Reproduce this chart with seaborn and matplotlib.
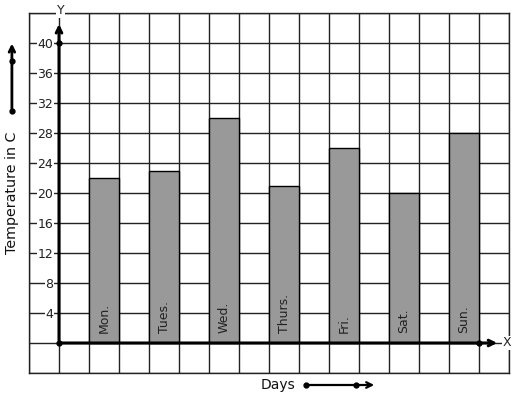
import matplotlib
matplotlib.use("Agg")
import matplotlib.pyplot as plt
import seaborn as sns
import pandas as pd

days = ["Mon.", "Tues.", "Wed.", "Thurs.", "Fri.", "Sat.", "Sun."]
temps = [22, 23, 30, 21, 26, 20, 28]
positions = [1.5, 3.5, 5.5, 7.5, 9.5, 11.5, 13.5]
ytick_vals = list(range(-4, 45, 4))
ytick_labels = [str(v) if 4 <= v <= 40 else "" for v in ytick_vals]

sns.set_style("white")
plt.rcParams['font.family'] = ['DejaVu Sans']

fig = plt.figure(figsize=(5.17, 3.99), dpi=100)
ax = fig.add_axes([29/517, 26/399, 480/517, 360/399])

df = pd.DataFrame({"pos": positions, "temp": temps, "day": days})
sns.barplot(data=df, x="pos", y="temp", native_scale=True, width=0.5,
            color="#999999", saturation=1, edgecolor="black", linewidth=1,
            ax=ax, zorder=2)

ax.set_xlim(-1, 15)
ax.set_ylim(-4, 44)
ax.set_xticks(range(-1, 16))
ax.set_xticklabels([])
ax.set_yticks(ytick_vals)
ax.set_yticklabels(ytick_labels)
ax.tick_params(axis="both", length=0)
ax.tick_params(axis="y", pad=-17.5, labelsize=9, labelcolor="#222222")
for lbl in ax.get_yticklabels():
    lbl.set_bbox(dict(facecolor="white", edgecolor="none", pad=0.5))
    lbl.set_zorder(5)
ax.grid(True, color="#222222", linewidth=1)
ax.set_axisbelow(True)
for s in ax.spines.values():
    s.set_color("#222222")
    s.set_linewidth(1)
ax.set_xlabel("")
ax.set_ylabel("")

# bar labels
for p, d in zip(positions, days):
    ax.text(p, 1.3, d, rotation=90, ha="center", va="bottom", fontsize=9,
            color="#222222", zorder=4)

# axes with arrows
ax.annotate("", xy=(14.7, 0), xytext=(0, 0),
            arrowprops=dict(arrowstyle="->", lw=2.2, color="black"), zorder=4)
ax.annotate("", xy=(0, 42.9), xytext=(0, 0),
            arrowprops=dict(arrowstyle="->", lw=2.2, color="black"), zorder=4)
ax.plot([0, 0, 14], [0, 40, 0], "o", color="black", markersize=3.5, zorder=5)
ax.text(14.93, 0, "X", ha="center", va="center", fontsize=9, color="#222222",
        bbox=dict(facecolor="white", edgecolor="none", pad=0.3), clip_on=False, zorder=6)
ax.text(0.05, 44.3, "Y", ha="center", va="center", fontsize=9, color="#222222",
        bbox=dict(facecolor="white", edgecolor="none", pad=0.3), clip_on=False, zorder=6)

# y label and arrow
ax.text(-1.55, 20.0, "Temperature in C", rotation=90, ha="center", va="center",
        fontsize=10.3, color="#111111", clip_on=False)
ax.annotate("", xy=(-1.57, 40.3), xytext=(-1.57, 30.9),
            arrowprops=dict(arrowstyle="->", lw=2, color="black"),
            annotation_clip=False)
ax.plot([-1.57, -1.57], [30.9, 37.6], "o", color="black", markersize=3.5,
        clip_on=False)

# x label and arrow
ax.text(7.3, -5.6, "Days", ha="center", va="center", fontsize=10,
        color="#111111", clip_on=False)
ax.annotate("", xy=(10.6, -5.6), xytext=(8.23, -5.6),
            arrowprops=dict(arrowstyle="->", lw=1.6, color="black"),
            annotation_clip=False)
ax.plot([8.23, 9.9], [-5.6, -5.6], "o", color="black", markersize=3.5,
        clip_on=False)

fig.savefig("out.png", dpi=100)
